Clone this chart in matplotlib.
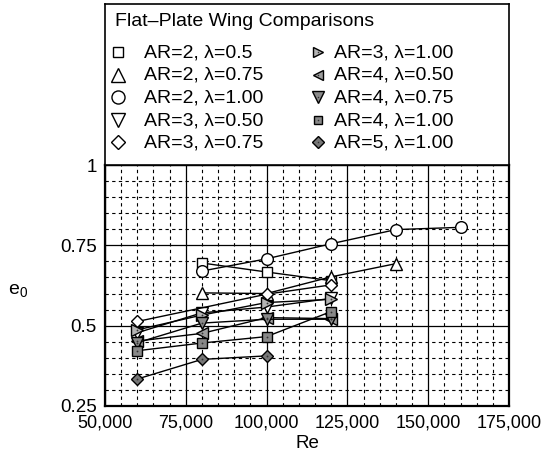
import matplotlib
matplotlib.use("Agg")
import matplotlib.pyplot as plt
from matplotlib.ticker import FuncFormatter, MultipleLocator

plt.rcParams['font.family'] = ['Liberation Sans', 'DejaVu Sans']
plt.rcParams['mathtext.fontset'] = 'custom'
plt.rcParams['mathtext.rm'] = 'Liberation Sans'
plt.rcParams['mathtext.it'] = 'Liberation Sans:italic'

# Reynolds number and span efficiency for each wing
re_ar2_l050 = [80000, 100000, 120000]
e_ar2_l050 = [0.695, 0.667, 0.640]
re_ar2_l075 = [80000, 100000, 120000, 140000]
e_ar2_l075 = [0.602, 0.600, 0.652, 0.693]
re_ar2_l100 = [80000, 100000, 120000, 140000, 160000]
e_ar2_l100 = [0.670, 0.708, 0.755, 0.799, 0.806]
re_ar3_l050 = [60000, 80000, 100000, 120000]
e_ar3_l050 = [0.478, 0.540, 0.558, 0.585]
re_ar3_l075 = [60000, 100000, 120000]
e_ar3_l075 = [0.513, 0.598, 0.627]
re_ar3_l100 = [60000, 80000, 100000, 120000]
e_ar3_l100 = [0.487, 0.533, 0.572, 0.582]
re_ar4_l050 = [60000, 80000, 100000, 120000]
e_ar4_l050 = [0.452, 0.476, 0.525, 0.522]
re_ar4_l075 = [60000, 80000, 100000, 120000]
e_ar4_l075 = [0.447, 0.508, 0.520, 0.520]
re_ar4_l100 = [60000, 80000, 100000, 120000]
e_ar4_l100 = [0.422, 0.446, 0.466, 0.544]
re_ar5_l100 = [60000, 80000, 100000]
e_ar5_l100 = [0.334, 0.395, 0.406]

series_labels = ['AR=2, λ=0.5', 'AR=2, λ=0.75', 'AR=2, λ=1.00',
                 'AR=3, λ=0.50', 'AR=3, λ=0.75', 'AR=3, λ=1.00',
                 'AR=4, λ=0.50', 'AR=4, λ=0.75', 'AR=4, λ=1.00',
                 'AR=5, λ=1.00']
x_ticks = [50000, 75000, 100000, 125000, 150000, 175000]
y_ticks = [0.25, 0.5, 0.75, 1.0]
y_tick_labels = ['0.25', '0.5', '0.75', '1']

# (x, y, marker, face colour, plot size, key size, centre dot)
series = [
    (re_ar2_l050, e_ar2_l050, 's', 'white', 7.2, 7.2, False),
    (re_ar2_l075, e_ar2_l075, '^', 'white', 8.6, 9.4, False),
    (re_ar2_l100, e_ar2_l100, 'o', 'white', 8.4, 9.4, False),
    (re_ar3_l050, e_ar3_l050, 'v', 'white', 8.6, 9.4, False),
    (re_ar3_l075, e_ar3_l075, 'D', 'white', 6.3, 7.0, False),
    (re_ar3_l100, e_ar3_l100, '>', '#b4b4b4', 8.6, 7.6, True),
    (re_ar4_l050, e_ar4_l050, '<', '#9c9c9c', 8.6, 7.6, True),
    (re_ar4_l075, e_ar4_l075, 'v', '#8a8a8a', 8.6, 8.2, True),
    (re_ar4_l100, e_ar4_l100, 's', '#888888', 7.2, 5.4, True),
    (re_ar5_l100, e_ar5_l100, 'D', '#777777', 6.3, 6.5, True),
]

fig = plt.figure(figsize=(5.44, 4.58), dpi=100)
ax = fig.add_axes([105 / 544, 1 - 406 / 458, (509 - 105) / 544, (406 - 165) / 458])

for xs, ys, mk, fc, ms, lms, dot in series:
    ax.plot(xs, ys, color='black', lw=1.0, marker=mk, ms=ms, mfc=fc,
            mec='black', mew=1.0, zorder=3)
    if dot:
        ax.plot(xs, ys, ls='none', marker='o', ms=1.3, mfc='#333333', mec='none', zorder=4)

ax.set_xlim(50000, 175000)
ax.set_ylim(0.25, 1.0)
ax.set_xticks(x_ticks)
ax.xaxis.set_major_formatter(FuncFormatter(lambda v, p: f'{int(v):,}'))
ax.set_yticks(y_ticks)
ax.set_yticklabels(y_tick_labels)
ax.xaxis.set_minor_locator(MultipleLocator(5000))
ax.yaxis.set_minor_locator(MultipleLocator(0.05))
ax.grid(which='major', color='black', lw=0.9, ls='-', zorder=0)
ax.grid(which='minor', color='black', lw=0.8, ls=(0, (3, 3)), zorder=0)
ax.set_axisbelow(True)
ax.tick_params(which='both', direction='in', length=0)
ax.tick_params(axis='x', pad=6, labelsize=13)
ax.tick_params(axis='y', pad=6, labelsize=13.5)
for s in ax.spines.values():
    s.set_linewidth(1.6)

ax.set_xlabel('Re', fontsize=13.5, labelpad=3)
ax.set_ylabel(r'$\mathrm{e}_{\mathit{0}}$', fontsize=14, rotation=0, va='center', ha='center')
ax.yaxis.set_label_coords(-0.215, 0.48)

# Boxed key above the plot area, laid out in pixel-like units
lax = fig.add_axes([105 / 544, 1 - 165 / 458, (509 - 105) / 544, (165 - 4) / 458])
lax.set_xlim(105, 509)
lax.set_ylim(165, 4)
lax.set_xticks([])
lax.set_yticks([])
for s in lax.spines.values():
    s.set_linewidth(1.2)

lax.text(115, 22, 'Flat\u2013Plate Wing Comparisons', fontsize=14, va='center', ha='left')
row_y = [52.5, 75, 97.5, 120, 142.5]
col_marker_x = [118, 318]
col_text_x = [144, 334]
for i, ((xs, ys, mk, fc, ms, lms, dot), lab) in enumerate(zip(series, series_labels)):
    col, row = divmod(i, 5)
    mx, ty = col_marker_x[col], row_y[row]
    lax.plot([mx], [ty], ls='none', marker=mk, ms=lms, mfc=fc, mec='black', mew=1.0)
    if dot:
        lax.plot([mx], [ty], ls='none', marker='o', ms=1.1, mfc='#333333', mec='none')
    lax.text(col_text_x[col], ty + 0.5, lab, fontsize=14, va='center', ha='left')

fig.savefig('out.png', dpi=100)
